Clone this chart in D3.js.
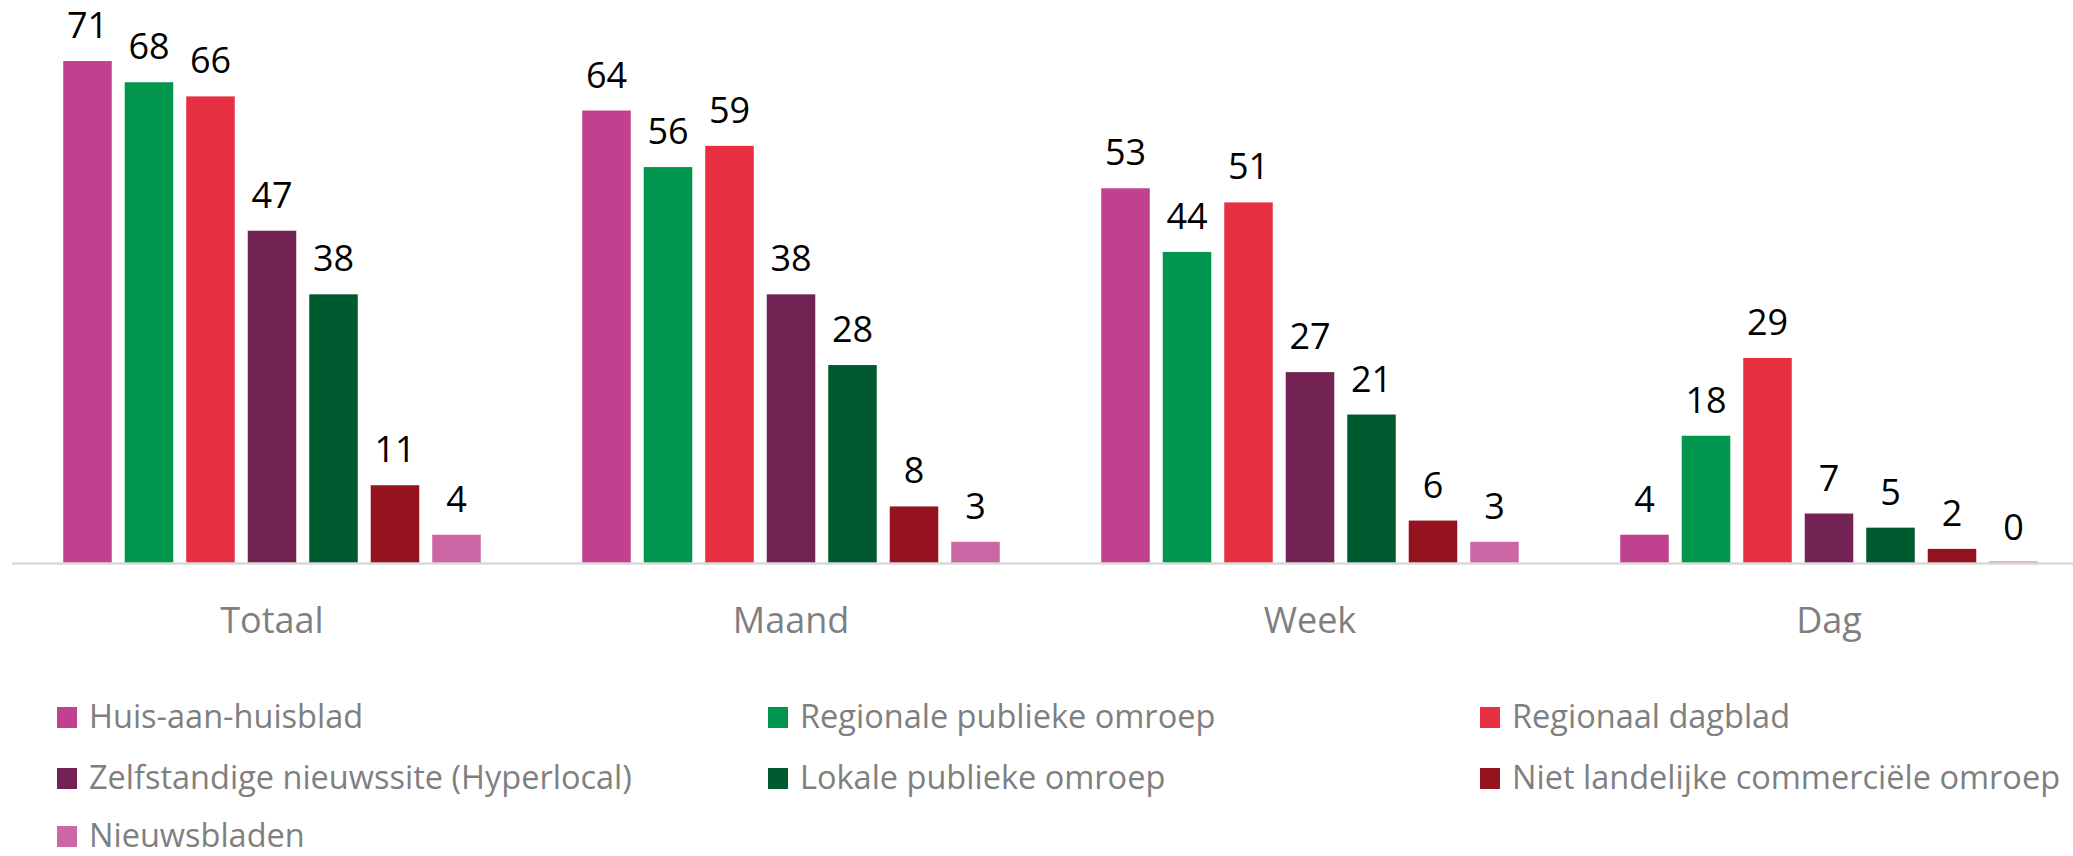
<!DOCTYPE html>
<html>
<head>
<meta charset="utf-8">
<script src="https://cdn.jsdelivr.net/npm/d3@7"></script>
<style>
  body { margin: 0; background: #fff; }
  svg { display: block; font-family: "Open Sans", sans-serif; }
</style>
</head>
<body>
<div class="chart"></div>
<script>
// Categories and series
const groups = ["Totaal", "Maand", "Week", "Dag"];
const series = [
  "Huis-aan-huisblad",
  "Regionale publieke omroep",
  "Regionaal dagblad",
  "Zelfstandige nieuwssite (Hyperlocal)",
  "Lokale publieke omroep",
  "Niet landelijke commerciële omroep",
  "Nieuwsbladen",
];
const colors = ["#C0418F", "#00964E", "#E63042", "#732353", "#005A30", "#95121F", "#CC66A5"];

// values per series, in the order of groups
const huisAanHuis = [71, 64, 53, 4];
const regionaleOmroep = [68, 56, 44, 18];
const regionaalDagblad = [66, 59, 51, 29];
const hyperlocal = [47, 38, 27, 7];
const lokaleOmroep = [38, 28, 21, 5];
const commercieel = [11, 8, 6, 2];
const nieuwsbladen = [4, 3, 3, 0];
const values = [huisAanHuis, regionaleOmroep, regionaalDagblad, hyperlocal, lokaleOmroep, commercieel, nieuwsbladen];

const W = 2073, H = 856;
const baseY = 563;

const svg = d3.select(".chart").append("svg").attr("width", W).attr("height", H);

// Scales
const x0 = d3.scaleBand().domain(groups).range([12.5, 2088.5]).padding(0);
const x1 = d3.scaleBand().domain(series).range([0, x0.bandwidth()])
  .paddingInner(0.211).paddingOuter(0.825);
const y = d3.scaleLinear().domain([0, 80]).range([baseY, baseY - 80 * 7.07]);

// flat data
const data = [];
groups.forEach((g, gi) => {
  series.forEach((s, si) => {
    data.push({ group: g, series: s, value: values[si][gi], color: colors[si] });
  });
});

// Bars
svg.append("g")
  .selectAll("rect")
  .data(data)
  .join("rect")
  .attr("x", d => x0(d.group) + x1(d.series))
  .attr("y", d => Math.min(y(d.value), baseY - 1.5))
  .attr("width", x1.bandwidth())
  .attr("height", d => Math.max(baseY - y(d.value), 1.5))
  .attr("fill", d => d.color);

// Axis line
svg.append("line")
  .attr("x1", 12).attr("x2", W)
  .attr("y1", baseY + 0.5).attr("y2", baseY + 0.5)
  .attr("stroke", "#d9d9d9").attr("stroke-width", 2.5);

// Value labels
svg.append("g")
  .selectAll("text")
  .data(data)
  .join("text")
  .attr("x", d => x0(d.group) + x1(d.series) + x1.bandwidth() / 2)
  .attr("y", d => y(d.value) - 23)
  .attr("text-anchor", "middle")
  .attr("font-size", 36)
  .attr("fill", "#000")
  .text(d => d.value);

// Category labels
svg.append("g")
  .selectAll("text")
  .data(groups)
  .join("text")
  .attr("x", d => x0(d) + x0.bandwidth() / 2)
  .attr("y", 633)
  .attr("text-anchor", "middle")
  .attr("font-size", 36)
  .attr("fill", "#7f7f7f")
  .text(d => d);

// Legend
const colX = [57, 768, 1480];
const rowY = [728, 789, 847];
const legend = svg.append("g")
  .selectAll("g")
  .data(series)
  .join("g")
  .attr("transform", (d, i) => `translate(${colX[i % 3]},${rowY[Math.floor(i / 3)]})`);

legend.append("rect")
  .attr("x", 0).attr("y", -21)
  .attr("width", 20).attr("height", 21)
  .attr("fill", (d, i) => colors[i]);

legend.append("text")
  .attr("x", 32).attr("y", 0)
  .attr("font-size", 32.5)
  .attr("fill", "#7f7f7f")
  .text(d => d);
</script>
</body>
</html>
